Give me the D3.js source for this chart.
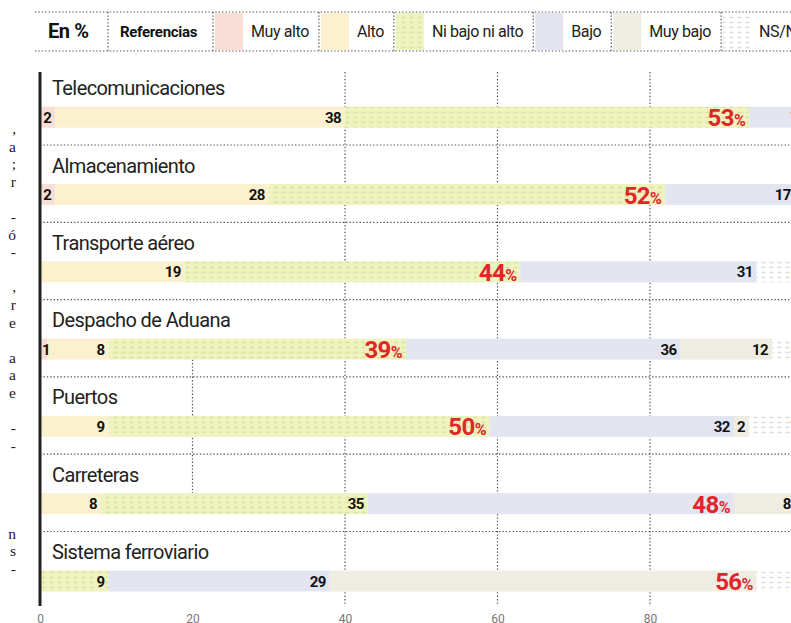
<!DOCTYPE html>
<html>
<head>
<meta charset="utf-8">
<script src="https://cdn.jsdelivr.net/npm/d3@7"></script>
<style>
  html, body { margin: 0; padding: 0; background: #fff; }
  svg { display: block; }
</style>
</head>
<body>
<svg id="chart" width="791" height="623"></svg>
<script>
// ---------- DATA ----------
const categories = ["Telecomunicaciones", "Almacenamiento", "Transporte aéreo", "Despacho de Aduana", "Puertos", "Carreteras", "Sistema ferroviario"];
const seriesNames = ["Muy alto", "Alto", "Ni bajo ni alto", "Bajo", "Muy bajo", "NS/NC"];
const muyAlto      = [2, 2, 0, 1, 0, 0, 0];
const alto         = [38, 28, 19, 8, 9, 8, 0];
const niBajoNiAlto = [53, 52, 44, 39, 50, 35, 9];
const bajo         = [7, 17, 31, 36, 32, 48, 29];
const muyBajo      = [0, 0, 0, 12, 2, 8, 56];
const nsnc         = [0, 1, 6, 4, 7, 1, 6];
const xTicks = [0, 20, 40, 60, 80];
const legendTitle = "En %";
const legendLabel = "Referencias";
const legendNames = ["Muy alto", "Alto", "Ni bajo ni alto", "Bajo", "Muy bajo", "NS/NC"];
const gutterChars = [[",", 0], ["a", 1], [";", 2], ["r", 3], ["-", 5], ["ó", 6], ["-", 7], [",", 9], ["r", 10], ["e", 11], ["a", 13], ["a", 14], ["e", 15], ["-", 17], ["-", 18], ["n", 23], ["s", 24], ["-", 25]];

// ---------- BUILD ----------
const seriesArrays = [muyAlto, alto, niBajoNiAlto, bajo, muyBajo, nsnc];
const table = categories.map((c, i) => {
  const row = { cat: c };
  seriesNames.forEach((s, k) => row[s] = seriesArrays[k][i]);
  return row;
});
const stacked = d3.stack().keys(seriesNames)(table);

const svg = d3.select("#chart");
const defs = svg.append("defs");

function texturePattern(id, bg, fg, w, h, marks) {
  const p = defs.append("pattern").attr("id", id).attr("patternUnits", "userSpaceOnUse")
    .attr("width", w).attr("height", h);
  p.append("rect").attr("width", w).attr("height", h).attr("fill", bg);
  marks(p, fg);
}
const glyphMark = "M1,2.5 h5 M3.5,1 v3 M1,7.5 h5 M3.5,6 v3";
texturePattern("pNi", "#eff3c0", "#dbe3a2", 8, 10, (p, fg) => {
  p.append("path").attr("d", glyphMark).attr("stroke", fg).attr("stroke-width", 0.9).attr("fill", "none");
});
texturePattern("pNs", "#ffffff", "#e0e0e0", 8, 10, (p, fg) => {
  p.append("path").attr("d", glyphMark).attr("stroke", fg).attr("stroke-width", 0.9).attr("fill", "none");
});
texturePattern("pBajo", "#e3e6f1", "#d8dcec", 4, 4, (p, fg) => {
  p.append("rect").attr("x", 1).attr("y", 1).attr("width", 1).attr("height", 1).attr("fill", fg);
});
texturePattern("pMuyBajo", "#f0ede3", "#e7e3d4", 4, 4, (p, fg) => {
  p.append("rect").attr("x", 2).attr("y", 0).attr("width", 1).attr("height", 1).attr("fill", fg);
});
const fills = {
  "Muy alto": "#f7ded6",
  "Alto": "#fbf1cf",
  "Ni bajo ni alto": "url(#pNi)",
  "Bajo": "url(#pBajo)",
  "Muy bajo": "url(#pMuyBajo)",
  "NS/NC": "url(#pNs)"
};

const x = d3.scaleLinear().domain([0, 100]).range([40, 802.5]);
const y = d3.scaleBand().domain(categories).range([67.7, 67.7 + 77.3 * categories.length]);
const barTop = 39, barH = 21;
const dotted = "1.4 2";
const gridColor = "#555";

// ---------- LEGEND ----------
const lg = svg.append("g");
const lgTop = 12, lgBot = 51;
[lgTop, lgBot].forEach(yy => {
  lg.append("line").attr("x1", 35).attr("x2", 791).attr("y1", yy).attr("y2", yy)
    .attr("stroke", gridColor).attr("stroke-dasharray", dotted).attr("stroke-width", 1.2);
});
function vsep(sx) {
  lg.append("line").attr("x1", sx).attr("x2", sx).attr("y1", lgTop).attr("y2", lgBot)
    .attr("stroke", gridColor).attr("stroke-dasharray", dotted).attr("stroke-width", 1.2);
}
lg.append("text").attr("x", 48).attr("y", 38).text(legendTitle)
  .attr("font-family", "Roboto").attr("font-weight", "bold").attr("font-size", 20).attr("fill", "#111")
  .attr("letter-spacing", -0.4);
vsep(108);
lg.append("text").attr("x", 120).attr("y", 37).text(legendLabel)
  .attr("font-family", "Roboto").attr("font-weight", "bold").attr("font-size", 15).attr("fill", "#111")
  .attr("letter-spacing", -0.3);
let sx = 213;
legendNames.forEach((name, i) => {
  vsep(sx);
  lg.append("rect").attr("x", sx + 2).attr("y", lgTop + 1).attr("width", 28).attr("height", lgBot - lgTop - 2)
    .attr("fill", fills[seriesNames[i]]);
  const t = lg.append("text").attr("x", sx + 38).attr("y", 37).text(name)
    .attr("font-family", "Roboto").attr("font-size", 16).attr("fill", "#222").attr("letter-spacing", -0.4);
  sx = sx + 38 + t.node().getComputedTextLength() + 10;
});

// ---------- GUTTER TEXT (fragments of the neighbouring article) ----------
const gt = svg.append("text").attr("font-family", "Liberation Serif").attr("font-size", 15.5).attr("fill", "#222")
  .attr("text-anchor", "end");
gt.selectAll("tspan").data(gutterChars).join("tspan")
  .attr("x", 16).attr("y", d => 134 + d[1] * 17.6).text(d => d[0]);

// ---------- GRID ----------
const grid = svg.append("g");
xTicks.filter(t => t >= 40).forEach(t => {
  grid.append("line").attr("x1", x(t)).attr("x2", x(t)).attr("y1", 72).attr("y2", 606)
    .attr("stroke", gridColor).attr("stroke-dasharray", dotted).attr("stroke-width", 1.2);
});
grid.append("line").attr("x1", x(20)).attr("x2", x(20))
  .attr("y1", y(categories[3]) + barTop + barH).attr("y2", y(categories[5]) + barTop)
  .attr("stroke", gridColor).attr("stroke-dasharray", dotted).attr("stroke-width", 1.2);
categories.slice(1).forEach(c => {
  grid.append("line").attr("x1", 40).attr("x2", 791).attr("y1", y(c)).attr("y2", y(c))
    .attr("stroke", gridColor).attr("stroke-dasharray", dotted).attr("stroke-width", 1.2);
});

// ---------- CATEGORY LABELS ----------
svg.append("g").selectAll("text").data(categories).join("text")
  .attr("x", 52).attr("y", c => y(c) + 27.5)
  .attr("font-family", "Roboto").attr("font-size", 20).attr("fill", "#222")
  .attr("letter-spacing", -0.6)
  .text(c => c);

// ---------- BARS ----------
const bars = svg.append("g");
stacked.forEach(s => {
  bars.append("g").selectAll("rect").data(s).join("rect")
    .attr("x", d => x(d[0])).attr("width", d => x(d[1]) - x(d[0]))
    .attr("y", d => y(d.data.cat) + barTop).attr("height", barH)
    .attr("fill", fills[s.key]);
});

// ---------- VALUE LABELS ----------
const labels = svg.append("g");
stacked.forEach(s => {
  s.forEach(d => {
    const v = d[1] - d[0];
    if (v <= 0) return;
    const rowMax = d3.max(seriesNames, k => d.data[k]);
    const yb = y(d.data.cat) + barTop;
    const lx = Math.max(x(d[1]) - 4, x(d[0]) + 10);
    if (v === rowMax) {
      const t = labels.append("text").attr("x", lx).attr("y", yb + 19.5)
        .attr("text-anchor", "end").attr("font-family", "Roboto").attr("font-weight", "bold")
        .attr("fill", "#e0262a").attr("letter-spacing", -0.6);
      t.append("tspan").attr("font-size", 24).text(v);
      t.append("tspan").attr("font-size", 16).text("%");
    } else {
      labels.append("text").attr("x", lx).attr("y", yb + 16)
        .attr("text-anchor", "end").attr("font-family", "Roboto").attr("font-weight", "bold")
        .attr("font-size", 15).attr("fill", "#111").attr("letter-spacing", -0.6)
        .text(v);
    }
  });
});

// ---------- AXIS ----------
svg.append("line").attr("x1", 40).attr("x2", 40).attr("y1", 72).attr("y2", 606)
  .attr("stroke", "#222").attr("stroke-width", 3);
const axis = svg.append("g").attr("transform", "translate(0,606)")
  .call(d3.axisBottom(x).tickValues(xTicks).tickSize(0).tickPadding(8));
axis.select(".domain").remove();
axis.selectAll("text").attr("font-family", "Roboto").attr("font-size", 12).attr("fill", "#777");
</script>
</body>
</html>
